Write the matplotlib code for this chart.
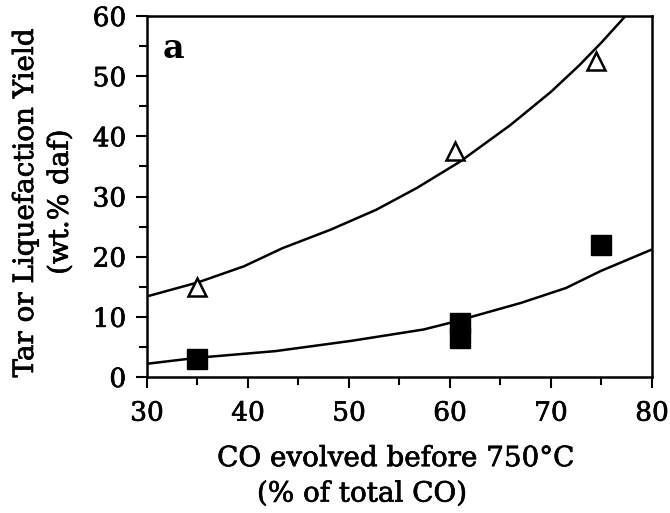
import matplotlib
matplotlib.use("Agg")
from matplotlib import pyplot as plt
from matplotlib import patheffects
from matplotlib.ticker import MultipleLocator

# data
tar_x = [35, 60.5, 74.5]
tar_y = [15, 37.5, 52.5]
liq_x = [35, 61, 61, 75]
liq_y = [3, 6.5, 9, 22]

# fitted curves
upper_x = [30, 35, 39.6, 43.4, 48.2, 52.7, 56.7, 61, 66, 70, 72.8, 75, 77.7]
upper_y = [13.4, 15.7, 18.4, 21.4, 24.5, 27.8, 31.4, 35.8, 41.9, 47.4, 51.8, 55.6, 60.6]
lower_x = [30, 35, 42.7, 50.2, 57.4, 60, 67, 71.5, 74.9, 80]
lower_y = [2.2, 3.2, 4.3, 6.0, 7.9, 9.0, 12.3, 14.8, 17.6, 21.2]

plt.rcParams['font.family'] = ['DejaVu Serif']
heavy = [patheffects.withStroke(linewidth=0.5, foreground='black')]

fig = plt.figure(figsize=(6.7, 5.13), dpi=100)
ax = fig.add_axes([0.2194, 0.2651, 0.7537, 0.7037])

ax.plot(upper_x, upper_y, color='black', lw=1.8)
ax.plot(lower_x, lower_y, color='black', lw=1.8)
ax.plot(tar_x, tar_y, linestyle='none', marker='^', ms=13,
        mfc='white', mec='black', mew=1.8, clip_on=False)
ax.plot(liq_x, liq_y, linestyle='none', marker='s', ms=14,
        mfc='black', mec='black', clip_on=False)

ax.set_xlim(30, 80)
ax.set_ylim(0, 60)
ax.xaxis.set_major_locator(MultipleLocator(10))
ax.xaxis.set_minor_locator(MultipleLocator(5))
ax.yaxis.set_major_locator(MultipleLocator(10))
ax.yaxis.set_minor_locator(MultipleLocator(5))
ax.tick_params(which='major', direction='out', length=8, width=1.5,
               labelsize=19, pad=9)
ax.tick_params(axis='y', which='major', pad=7)
ax.tick_params(which='minor', direction='out', length=6, width=1.5)
for lab in ax.get_xticklabels() + ax.get_yticklabels():
    lab.set_path_effects(heavy)
for s in ax.spines.values():
    s.set_linewidth(1.8)

ax.text(0.03, 0.955, 'a', transform=ax.transAxes, fontsize=24,
        fontweight='bold', va='top', ha='left')

fig.text(0.59, 0.106, 'CO evolved before 750°C', fontsize=20,
         ha='center', va='center', path_effects=heavy)
fig.text(0.54, 0.037, '(% of total CO)', fontsize=20,
         ha='center', va='center', path_effects=heavy)
fig.text(0.038, 0.604, 'Tar or Liquefaction Yield', fontsize=20,
         rotation=90, ha='center', va='center', path_effects=heavy)
fig.text(0.09, 0.606, '(wt.% daf)', fontsize=20,
         rotation=90, ha='center', va='center', path_effects=heavy)

fig.savefig('out.png', dpi=100)
